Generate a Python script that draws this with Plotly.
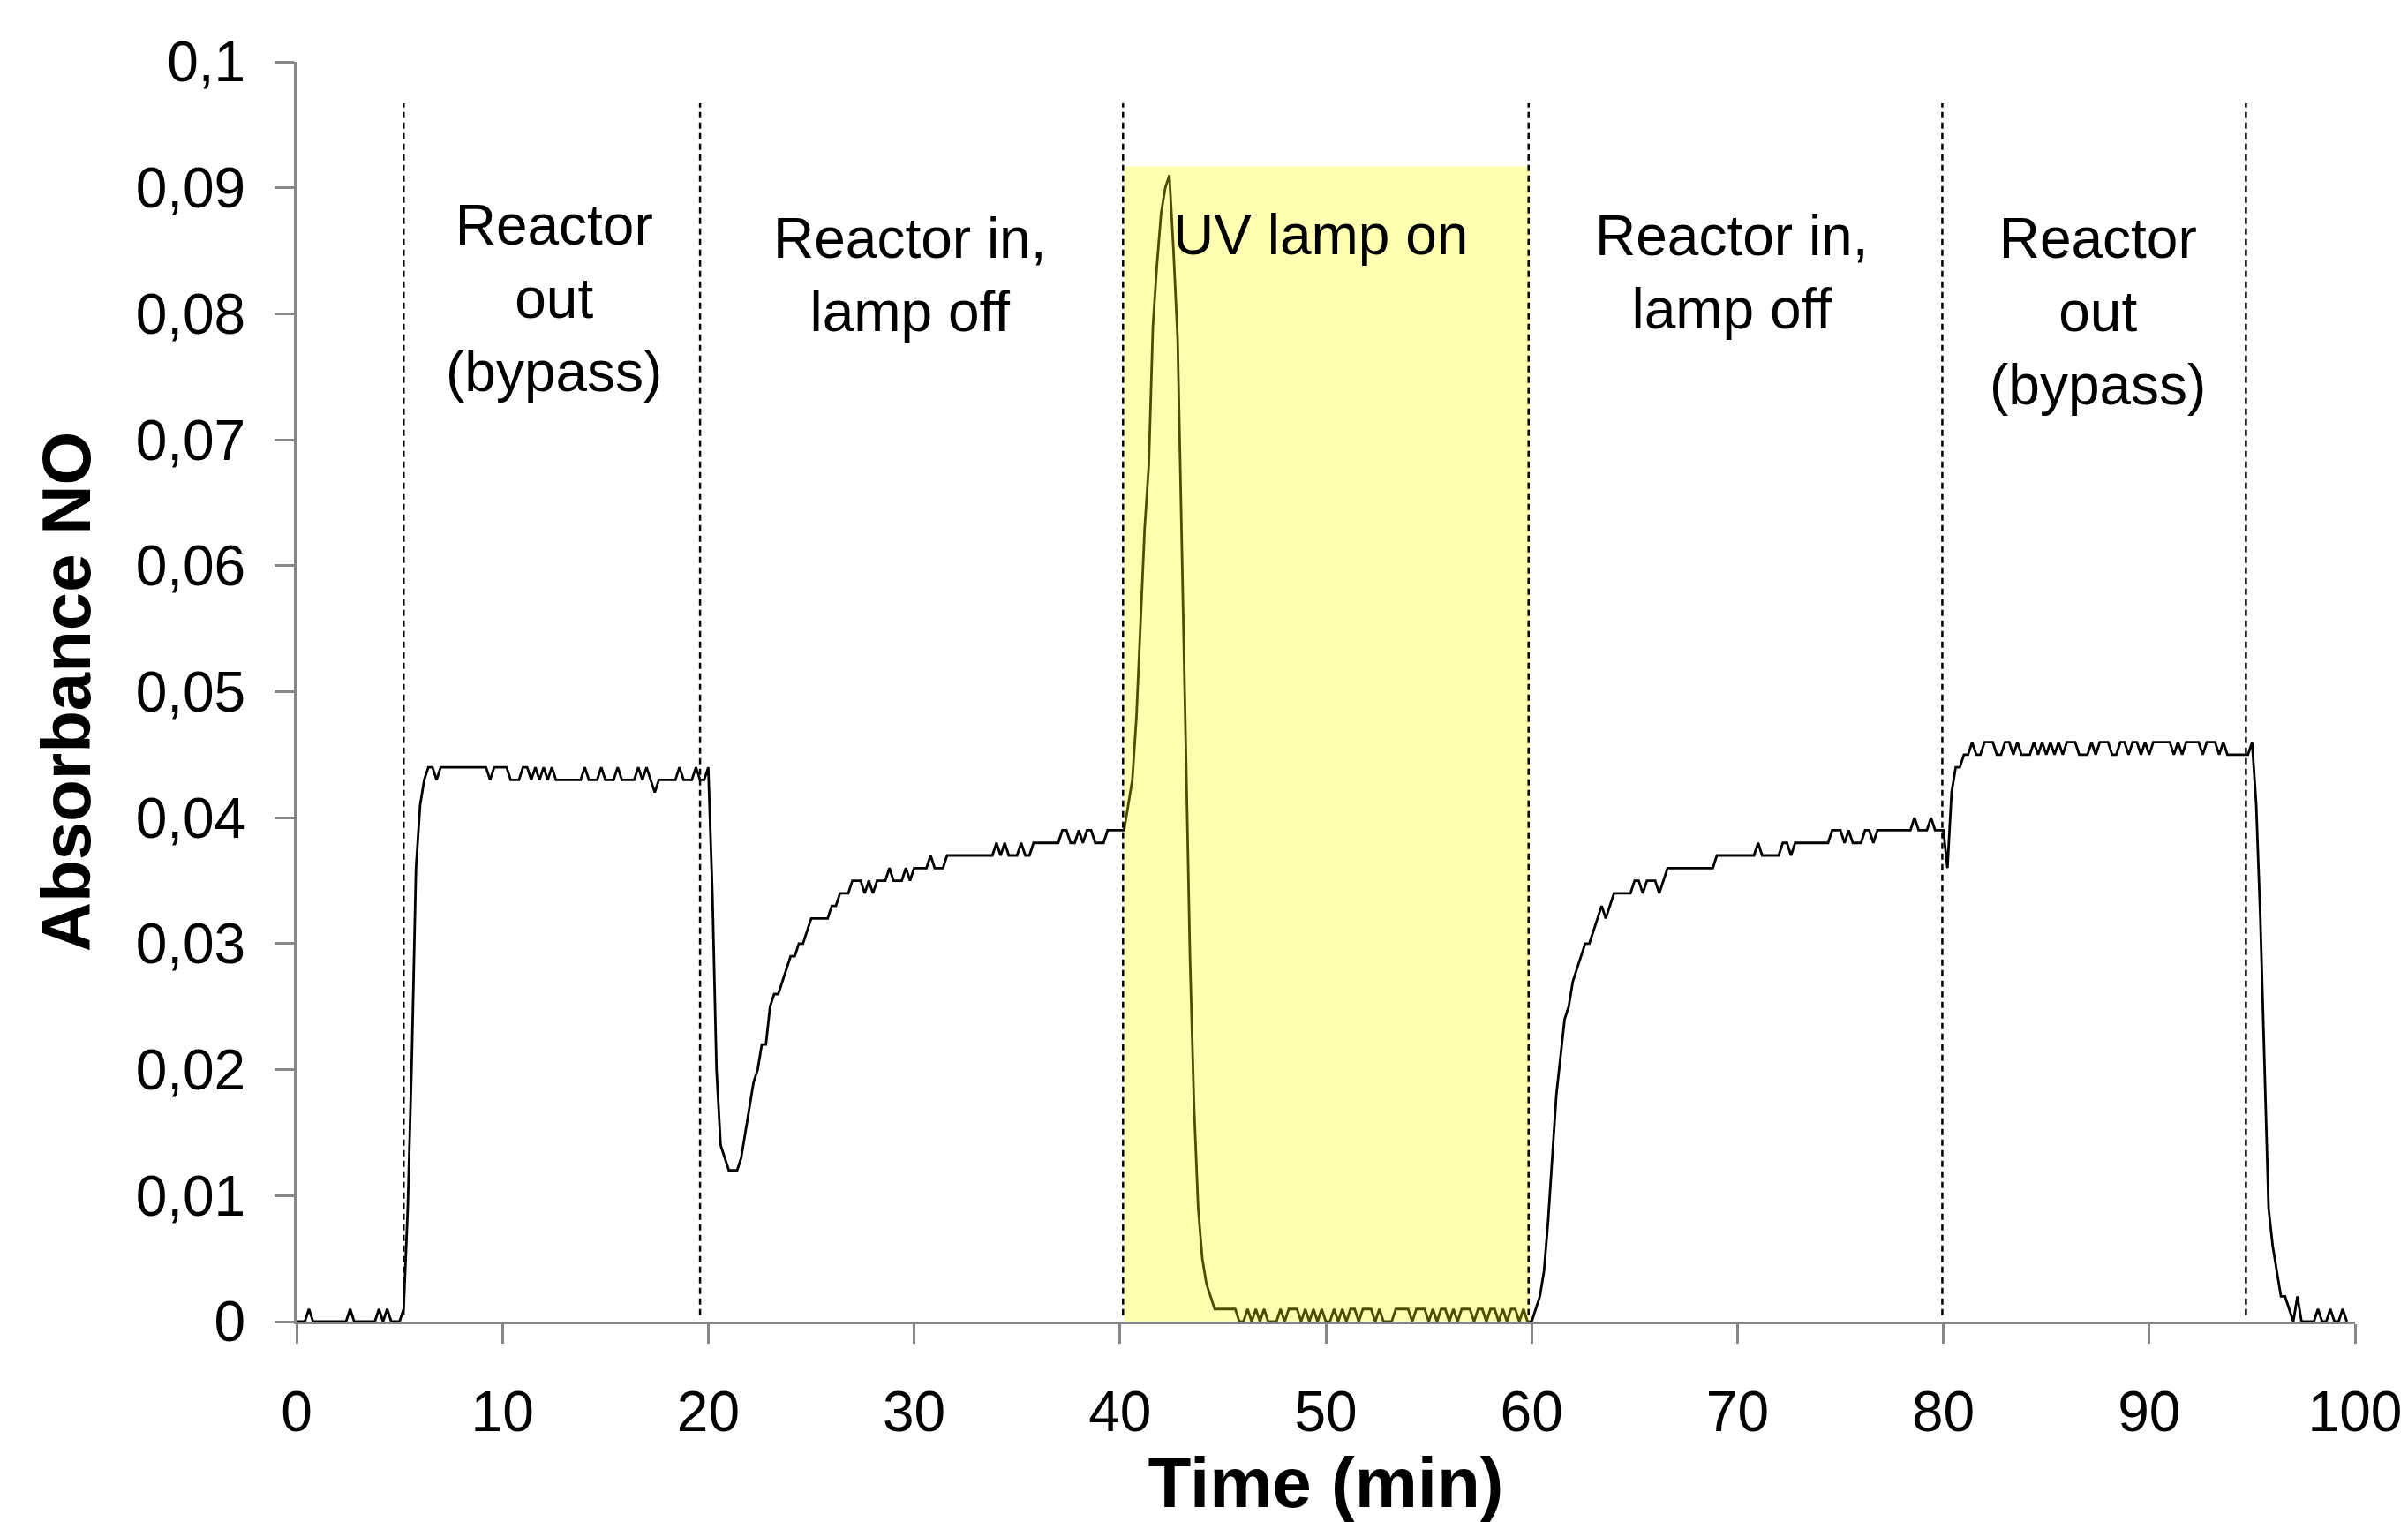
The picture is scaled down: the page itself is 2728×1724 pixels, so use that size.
import plotly.graph_objects as go

# ---------------- data ----------------
# NO absorbance sampled every 0.2 min, values in thousandths of absorbance units
sample_interval_min = 0.2
absorbance_milli = [
    0, 0, 0, 1, 0,   0, 0, 0, 0, 0,   0, 0, 0, 1, 0,   0, 0, 0, 0, 0,      # 0-3
    1, 0, 1, 0, 0,   0, 1, 9, 21, 36, 41, 43, 44, 44, 43, 44, 44, 44, 44, 44,  # 4-7
    44, 44, 44, 44, 44, 44, 44, 43, 44, 44, 44, 44, 43, 43, 43, 44, 44, 43, 44, 43,  # 8-11
    44, 43, 44, 43, 43, 43, 43, 43, 43, 43, 44, 43, 43, 43, 44, 43, 43, 43, 44, 43,  # 12-15
    43, 43, 43, 44, 43, 44, 43, 42, 43, 43, 43, 43, 43, 44, 43, 43, 43, 44, 43, 43,  # 16-19
    44, 34, 20, 14, 13, 12, 12, 12, 13, 15, 17, 19, 20, 22, 22, 25, 26, 26, 27, 28,  # 20-23
    29, 29, 30, 30, 31, 32, 32, 32, 32, 32, 33, 33, 34, 34, 34, 35, 35, 35, 34, 35,  # 24-27
    34, 35, 35, 35, 36, 35, 35, 35, 36, 35, 36, 36, 36, 36, 37, 36, 36, 36, 37, 37,  # 28-31
    37, 37, 37, 37, 37, 37, 37, 37, 37, 37, 38, 37, 38, 37, 37, 37, 38, 37, 37, 38,  # 32-35
    38, 38, 38, 38, 38, 38, 39, 39, 38, 38, 39, 38, 39, 39, 38, 38, 38, 39, 39, 39,  # 36-39
    39, 39, 41, 43, 48, 56, 63, 68, 79, 84, 88, 90, 91, 85, 78, 62, 45, 29, 17, 9,   # 40-43
    5, 3, 2, 1, 1,   1, 1, 1, 1, 0,   0, 1, 0, 1, 0,   1, 0, 0, 0, 1,      # 44-47
    0, 1, 1, 1, 0,   1, 0, 1, 0, 1,   0, 0, 1, 0, 1,   0, 1, 1, 0, 1,      # 48-51
    1, 1, 0, 1, 0,   0, 0, 1, 1, 1,   1, 0, 1, 1, 1,   0, 1, 0, 1, 1,      # 52-55
    0, 1, 0, 1, 1,   1, 0, 1, 1, 0,   1, 1, 0, 1, 0,   1, 1, 0, 1, 0,      # 56-59
    0, 1, 2, 4, 8, 13, 18, 21, 24, 25, 27, 28, 29, 30, 30, 31, 32, 33, 32, 33,  # 60-63
    34, 34, 34, 34, 34, 35, 35, 34, 35, 35, 35, 34, 35, 36, 36, 36, 36, 36, 36, 36,  # 64-67
    36, 36, 36, 36, 36, 37, 37, 37, 37, 37, 37, 37, 37, 37, 37, 38, 37, 37, 37, 37,  # 68-71
    37, 38, 38, 37, 38, 38, 38, 38, 38, 38, 38, 38, 38, 39, 39, 39, 38, 39, 38, 38,  # 72-75
    38, 39, 39, 38, 39, 39, 39, 39, 39, 39, 39, 39, 39, 40, 39, 39, 39, 40, 39, 39,  # 76-79
    39, 36, 42, 44, 44, 45, 45, 46, 45, 45, 46, 46, 46, 45, 45, 46, 46, 45, 46, 45,  # 80-83
    45, 45, 46, 45, 46, 45, 46, 45, 46, 45, 46, 46, 46, 45, 45, 45, 46, 45, 46, 46,  # 84-87
    46, 45, 45, 46, 46, 45, 46, 46, 45, 46, 45, 46, 46, 46, 46, 46, 45, 46, 45, 46,  # 88-91
    46, 46, 46, 45, 46, 46, 46, 45, 46, 45, 45, 45, 45, 45, 45, 46, 41, 32, 21, 9,   # 92-95
    6, 4, 2, 2, 1,   0, 2, 0, 0, 0,   0, 1, 0, 0, 1,   0, 0, 1, 0,         # 96-99
]
absorbance = [v / 1000 for v in absorbance_milli]
time_min = [round(i * sample_interval_min, 1) for i in range(len(absorbance))]

# phase boundaries (min) and the UV-lamp window
phase_bounds = [5.2, 19.6, 40.15, 59.85, 79.95, 94.7]
uv_window = [40.2, 59.9]
uv_window_top = 0.0917
boundary_top = 0.0967

# phase labels: text, x (min), y (absorbance)
phase_labels = ["Reactor<br>out<br>(bypass)", "Reactor in,<br>lamp off", "UV lamp on",
                "Reactor in,<br>lamp off", "Reactor<br>out<br>(bypass)"]
phase_label_x = [12.5, 29.8, 49.75, 69.7, 87.5]
phase_label_y = [0.0812, 0.0831, 0.0863, 0.0833, 0.0802]

x_ticks = [0, 10, 20, 30, 40, 50, 60, 70, 80, 90, 100]
y_tick_vals = [0, 0.01, 0.02, 0.03, 0.04, 0.05, 0.06, 0.07, 0.08, 0.09, 0.1]
y_tick_text = ["0", "0,01", "0,02", "0,03", "0,04", "0,05", "0,06", "0,07", "0,08", "0,09", "0,1"]

# ---------------- figure ----------------
FONT = "Liberation Sans, Arial, sans-serif"
AXIS_GREY = "#868686"

fig = go.Figure()
fig.add_trace(go.Scatter(
    x=time_min, y=absorbance, mode="lines",
    line=dict(color="black", width=2.8),
    showlegend=False, hoverinfo="x+y",
))

shapes = [dict(
    type="rect", xref="x", yref="y",
    x0=uv_window[0], x1=uv_window[1], y0=0, y1=uv_window_top,
    fillcolor="#FFFF00", opacity=0.3, line=dict(width=0), layer="above",
)]
for b in phase_bounds:
    shapes.append(dict(
        type="line", xref="x", yref="y", x0=b, x1=b, y0=0.0005, y1=boundary_top,
        line=dict(color="black", width=2.5, dash="7px,5px"), layer="above",
    ))

annotations = []
for txt, ax, ay in zip(phase_labels, phase_label_x, phase_label_y):
    annotations.append(dict(
        x=ax, y=ay, xref="x", yref="y", text=txt, showarrow=False,
        font=dict(family=FONT, size=64, color="black"),
        xanchor="center", yanchor="middle", align="center",
    ))

fig.update_layout(
    width=2728, height=1724,
    margin=dict(l=336, r=60, t=70, b=227, autoexpand=False),
    paper_bgcolor="white", plot_bgcolor="white",
    font=dict(family=FONT, color="black"),
    shapes=shapes, annotations=annotations,
    xaxis=dict(
        range=[0, 100], tickvals=x_ticks, ticks="outside", ticklen=22, tickwidth=3,
        tickcolor=AXIS_GREY, showline=True, linecolor=AXIS_GREY, linewidth=3,
        showgrid=False, zeroline=False, ticklabelstandoff=22,
        tickfont=dict(family=FONT, size=64, color="black"),
        title=dict(text="<b>Time (min)</b>", standoff=40,
                   font=dict(family=FONT, size=80, color="black")),
    ),
    yaxis=dict(
        range=[0, 0.1], tickvals=y_tick_vals, ticktext=y_tick_text, ticks="outside",
        ticklen=22, tickwidth=3, tickcolor=AXIS_GREY, showline=True,
        linecolor=AXIS_GREY, linewidth=3, showgrid=False, zeroline=False,
        ticklabelstandoff=20,
        tickfont=dict(family=FONT, size=64, color="black"),
        title=dict(text="<b>Absorbance NO</b>", standoff=26,
                   font=dict(family=FONT, size=78, color="black")),
    ),
)

fig.write_html("out.html", config={"displayModeBar": False},
               post_script="document.body.style.margin='0px';document.body.style.overflow='hidden';")
